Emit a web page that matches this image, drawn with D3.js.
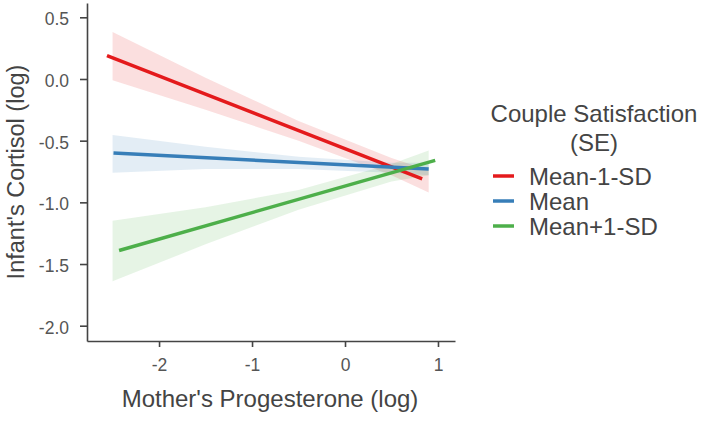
<!DOCTYPE html>
<html>
<head>
<meta charset="utf-8">
<script src="https://cdn.jsdelivr.net/npm/d3@7"></script>
<style>
  body { margin: 0; background: #fff; }
  text { font-family: "Liberation Sans", Arial, sans-serif; }
</style>
</head>
<body>
<div id="chart"></div>
<script>
// data
var series = ["Mean-1-SD", "Mean", "Mean+1-SD"];
var colors = ["#E41A1C", "#377EB8", "#4DAF4A"];

// fitted lines: [start, end]
var lineX = [[-2.56, 0.83], [-2.49, 0.90], [-2.43, 0.97]];
var lineY = [[0.19, -0.81], [-0.60, -0.73], [-1.39, -0.66]];

// SE ribbons
var bandX = [-2.5, -1.5, -0.5, 0.5, 0.9];
var redLo = [-0.01, -0.25, -0.50, -0.78, -0.92];
var redHi = [0.38, 0.01, -0.34, -0.64, -0.74];
var blueLo = [-0.76, -0.73, -0.73, -0.76, -0.78];
var blueHi = [-0.455, -0.55, -0.63, -0.68, -0.68];
var greenLo = [-1.64, -1.34, -1.06, -0.83, -0.78];
var greenHi = [-1.15, -1.04, -0.90, -0.69, -0.58];

var xTicks = [-2, -1, 0, 1];
var xTickLabels = ["-2", "-1", "0", "1"];
var yTicks = [0.5, 0, -0.5, -1, -1.5, -2];
var yTickLabels = ["0.5", "0.0", "-0.5", "-1.0", "-1.5", "-2.0"];

var lows = [redLo, blueLo, greenLo];
var highs = [redHi, blueHi, greenHi];

var svg = d3.select("#chart")
  .append("svg")
    .attr("width", 703)
    .attr("height", 422);

var x = d3.scaleLinear().domain([-2.775, 1.183]).range([87, 455]);
var y = d3.scaleLinear().domain([-2.124, 0.616]).range([341, 3]);

// ribbons
var area = d3.area()
  .x(function (d) { return x(d.x); })
  .y0(function (d) { return y(d.lo); })
  .y1(function (d) { return y(d.hi); });

series.forEach(function (s, i) {
  var pts = bandX.map(function (bx, j) { return {x: bx, lo: lows[i][j], hi: highs[i][j]}; });
  svg.append("path")
    .datum(pts)
    .attr("d", area)
    .attr("fill", colors[i])
    .attr("fill-opacity", 0.14);
});

// lines
var line = d3.line()
  .x(function (d) { return x(d[0]); })
  .y(function (d) { return y(d[1]); });

series.forEach(function (s, i) {
  svg.append("path")
    .datum([[lineX[i][0], lineY[i][0]], [lineX[i][1], lineY[i][1]]])
    .attr("d", line)
    .attr("fill", "none")
    .attr("stroke", colors[i])
    .attr("stroke-width", 3.5);
});

// axes
var xAxis = svg.append("g")
  .attr("transform", "translate(0,341)")
  .call(d3.axisBottom(x).tickValues(xTicks).tickSize(6).tickSizeOuter(0)
    .tickFormat(function (d, i) { return xTickLabels[i]; }));
var yAxis = svg.append("g")
  .attr("transform", "translate(87,0)")
  .call(d3.axisLeft(y).tickValues(yTicks).tickSize(7).tickSizeOuter(0)
    .tickFormat(function (d, i) { return yTickLabels[i]; }));

[xAxis, yAxis].forEach(function (g) {
  g.select(".domain").attr("stroke", "#444").attr("stroke-width", 1.6);
  g.selectAll(".tick line").attr("stroke", "#444").attr("stroke-width", 1.6);
  g.selectAll(".tick text")
    .attr("fill", "#555")
    .style("font-size", "17.5px")
    .style("font-family", "Liberation Sans, Arial, sans-serif");
});
xAxis.selectAll(".tick text").attr("y", 30).attr("dy", 0);
yAxis.selectAll(".tick text").attr("x", -18).attr("dy", "0.42em");

// axis titles
svg.append("text")
  .attr("x", 270)
  .attr("y", 407)
  .attr("text-anchor", "middle")
  .attr("fill", "#444")
  .style("font-size", "24px")
  .text("Mother's Progesterone (log)");

svg.append("text")
  .attr("transform", "translate(24,172) rotate(-90)")
  .attr("text-anchor", "middle")
  .attr("fill", "#444")
  .style("font-size", "23.5px")
  .text("Infant's Cortisol (log)");

// legend
var legend = svg.append("g");
legend.append("text")
  .attr("x", 594).attr("y", 122)
  .attr("text-anchor", "middle")
  .attr("fill", "#444")
  .style("font-size", "24px")
  .text("Couple Satisfaction");
legend.append("text")
  .attr("x", 594).attr("y", 151)
  .attr("text-anchor", "middle")
  .attr("fill", "#444")
  .style("font-size", "24px")
  .text("(SE)");

series.forEach(function (s, i) {
  var ly = 176 + i * 25;
  legend.append("line")
    .attr("x1", 493).attr("x2", 514)
    .attr("y1", ly).attr("y2", ly)
    .attr("stroke", colors[i])
    .attr("stroke-width", 3.5);
  legend.append("text")
    .attr("x", 529).attr("y", ly + 8.5)
    .attr("fill", "#444")
    .style("font-size", "24px")
    .text(s);
});
</script>
</body>
</html>
